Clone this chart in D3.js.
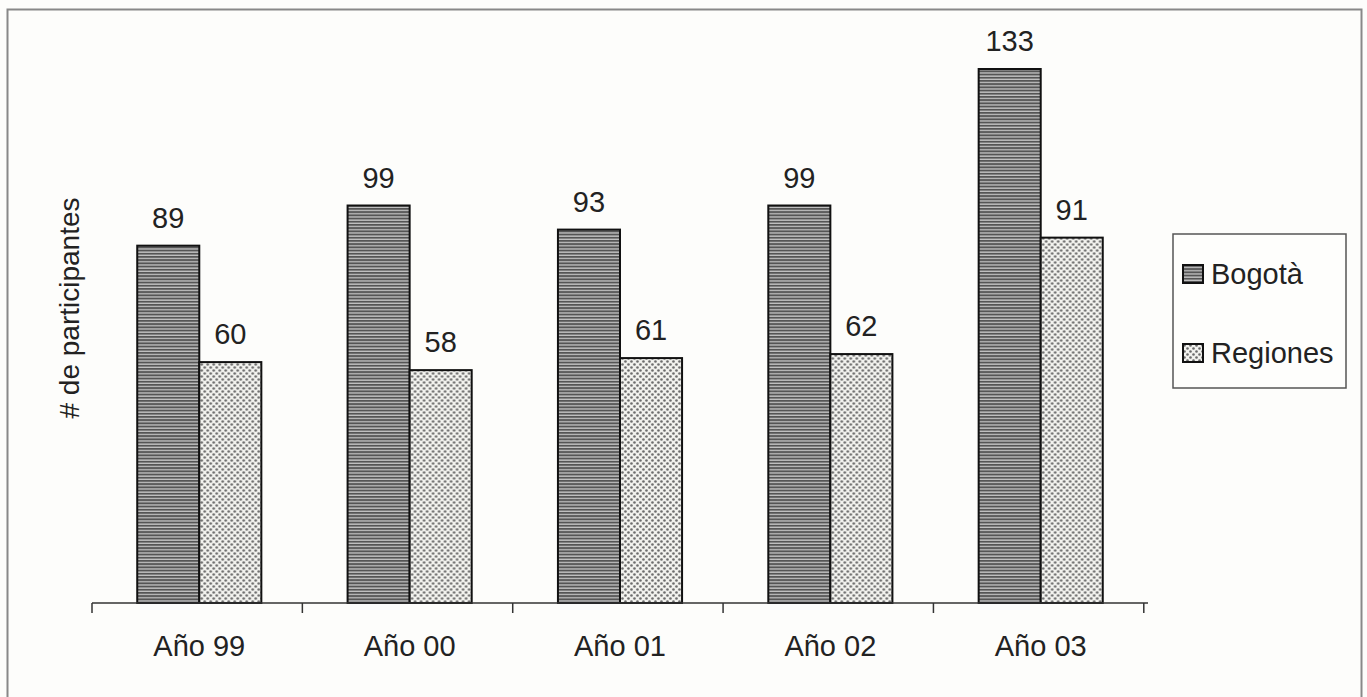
<!DOCTYPE html>
<html>
<head>
<meta charset="utf-8">
<script src="https://cdn.jsdelivr.net/npm/d3@7"></script>
<style>
  body { margin: 0; background: #fdfdfb; }
  svg { display: block; font-family: 'Liberation Sans', Arial, sans-serif; }
</style>
</head>
<body>
<svg width="1367" height="697"></svg>
<script>
const categories = ['Año 99', 'Año 00', 'Año 01', 'Año 02', 'Año 03'];
const seriesNames = ['Bogotà', 'Regiones'];
const bogota = [89, 99, 93, 99, 133];
const regiones = [60, 58, 61, 62, 91];
const yLabel = '# de participantes';

const data = categories.map((c, i) => ({ cat: c, values: [bogota[i], regiones[i]] }));

const svg = d3.select('svg');
const defs = svg.append('defs');

// striped fill for Bogotà
const stripes = defs.append('pattern')
  .attr('id', 'stripes')
  .attr('patternUnits', 'userSpaceOnUse')
  .attr('width', 8)
  .attr('height', 3.2);
stripes.append('rect').attr('width', 8).attr('height', 3.2).attr('fill', '#555');
stripes.append('rect').attr('y', 1.9).attr('width', 8).attr('height', 1.3).attr('fill', '#c4c4c4');

// dotted fill for Regiones
const dots = defs.append('pattern')
  .attr('id', 'dots')
  .attr('patternUnits', 'userSpaceOnUse')
  .attr('width', 6)
  .attr('height', 6);
dots.append('rect').attr('width', 6).attr('height', 6).attr('fill', '#f2f2ee');
dots.append('circle').attr('cx', 1.5).attr('cy', 1.5).attr('r', 1.3).attr('fill', '#6a6a6a');
dots.append('circle').attr('cx', 4.5).attr('cy', 4.5).attr('r', 1.3).attr('fill', '#6a6a6a');

const fills = ['url(#stripes)', 'url(#dots)'];

// outer frame
svg.append('rect')
  .attr('x', 7.5).attr('y', 9.5)
  .attr('width', 1354).attr('height', 700)
  .attr('fill', 'none')
  .attr('stroke', '#888')
  .attr('stroke-width', 2);

const x0 = d3.scaleBand()
  .domain(categories)
  .range([92, 1148])
  .paddingInner(0.41)
  .paddingOuter(0.215);

const x1 = d3.scaleBand()
  .domain(d3.range(seriesNames.length))
  .range([0, x0.bandwidth()]);

const y = d3.scaleLinear()
  .domain([0, 133])
  .range([603, 69]);

const groups = svg.append('g')
  .selectAll('g')
  .data(data)
  .enter()
  .append('g')
  .attr('transform', d => `translate(${x0(d.cat)},0)`);

groups.selectAll('rect')
  .data(d => d.values)
  .enter()
  .append('rect')
  .attr('x', (d, i) => x1(i))
  .attr('y', d => y(d))
  .attr('width', x1.bandwidth())
  .attr('height', d => y(0) - y(d))
  .attr('fill', (d, i) => fills[i])
  .attr('stroke', '#111')
  .attr('stroke-width', 2);

groups.selectAll('text')
  .data(d => d.values)
  .enter()
  .append('text')
  .attr('x', (d, i) => x1(i) + x1.bandwidth() / 2)
  .attr('y', d => y(d) - 18)
  .attr('text-anchor', 'middle')
  .attr('font-size', 29)
  .attr('fill', '#222')
  .text(d => d);

// x axis: baseline with ticks at category boundaries
const axis = svg.append('g');
const step = x0.step();
const x0Start = x0.range()[0];
axis.append('line')
  .attr('x1', x0Start).attr('x2', x0.range()[1])
  .attr('y1', y(0)).attr('y2', y(0))
  .attr('stroke', '#333').attr('stroke-width', 1.5);
axis.selectAll('.tick')
  .data(d3.range(categories.length + 1))
  .enter()
  .append('line')
  .attr('x1', i => x0Start + i * step)
  .attr('x2', i => x0Start + i * step)
  .attr('y1', y(0)).attr('y2', y(0) + 10)
  .attr('stroke', '#333').attr('stroke-width', 1.5);
axis.selectAll('.cat')
  .data(categories)
  .enter()
  .append('text')
  .attr('x', d => x0(d) + x0.bandwidth() / 2)
  .attr('y', 656)
  .attr('text-anchor', 'middle')
  .attr('font-size', 29)
  .attr('fill', '#222')
  .text(d => d);

// y axis label
svg.append('text')
  .attr('transform', 'translate(79,308) rotate(-90)')
  .attr('text-anchor', 'middle')
  .attr('font-size', 28)
  .attr('fill', '#222')
  .text(yLabel);

// legend
const legend = svg.append('g').attr('transform', 'translate(1173,234)');
legend.append('rect')
  .attr('width', 173).attr('height', 154)
  .attr('fill', '#fefefc')
  .attr('stroke', '#555').attr('stroke-width', 1.5);
const items = legend.selectAll('.item')
  .data(seriesNames)
  .enter()
  .append('g')
  .attr('transform', (d, i) => `translate(10,${31 + i * 79})`);
items.append('rect')
  .attr('width', 20).attr('height', 18)
  .attr('fill', (d, i) => fills[i])
  .attr('stroke', '#111').attr('stroke-width', 2);
items.append('text')
  .attr('x', 28).attr('y', 19)
  .attr('font-size', 29)
  .attr('fill', '#222')
  .text(d => d);
</script>
</body>
</html>
